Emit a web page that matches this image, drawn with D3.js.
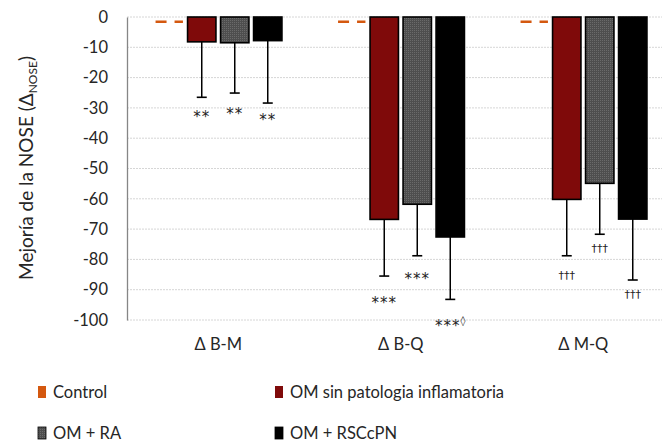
<!DOCTYPE html>
<html><head><meta charset="utf-8">
<script src="https://cdn.jsdelivr.net/npm/d3@7"></script>
<style>body{margin:0;background:#fff}svg{display:block;font-family:Lato,"Open Sans",sans-serif}</style>
</head><body><svg id="c" width="662" height="443"></svg>
<script>
const categories = ["Δ B-M", "Δ B-Q", "Δ M-Q"];
const seriesNames = ["Control", "OM sin patologia inflamatoria", "OM + RA", "OM + RSCcPN"];
const controlValues = [-1.6, -1.6, -1.6];
const omValues = [-8.2, -66.8, -60.2];
const raValues = [-8.5, -61.8, -54.9];
const rscValues = [-7.8, -72.6, -66.7];
const omErr = [-26.5, -85.5, -78.8];
const raErr = [-25.1, -78.8, -71.7];
const rscErr = [-28.4, -93.2, -86.8];
const omSig = ["**", "***", "†††"];
const raSig = ["**", "***", "†††"];
const rscSig = ["**", "***", "†††"];
const rscSup = ["", "◊", ""];
const omSigY = [-33, -94.5, -85.5];
const raSigY = [-32, -86.5, -76.5];
const rscSigY = [-34, -102, -91.8];
const yTicks = [0, -10, -20, -30, -40, -50, -60, -70, -80, -90, -100];

const svg = d3.select("#c");
const defs = svg.append("defs");
const pat = defs.append("pattern").attr("id","dots").attr("width",2).attr("height",2).attr("patternUnits","userSpaceOnUse");
pat.append("rect").attr("width",2).attr("height",2).attr("fill","#4e4e4e");
pat.append("rect").attr("width",1).attr("height",1).attr("fill","#6a6a6a");

const colors = ["#d4580f", "#7f0a0a", "url(#dots)", "#000000"];

const x = d3.scaleBand().domain(categories).range([127, 674.5]).padding(0);
const inner = d3.scaleBand().domain(seriesNames).range([0, x.bandwidth()]).paddingInner(0.14).paddingOuter(0.835);
const y = d3.scaleLinear().domain([-100, 0]).range([320, 17]);

// gridlines
svg.append("g").selectAll("line").data(yTicks).join("line")
  .attr("x1", 127).attr("x2", 662).attr("y1", d => y(d)).attr("y2", d => y(d))
  .attr("stroke", "#d6d6d6").attr("stroke-width", 1).attr("stroke-dasharray", "2,1");

// y axis
const yAxis = d3.axisLeft(y).tickValues(yTicks).tickSize(0).tickPadding(19).tickFormat(d => d === 0 ? "0" : "-" + Math.abs(d));
const ya = svg.append("g").attr("transform", "translate(127,0)").call(yAxis);
ya.select(".domain").attr("stroke", "#868686").attr("stroke-width", 1.3);
ya.selectAll("text").attr("font-size", 16.5).attr("fill", "#262626").attr("font-family", "Lato, sans-serif");

// x axis labels
const xAxis = d3.axisBottom(x).tickSize(0).tickPadding(0);
const xa = svg.append("g").attr("transform", "translate(0,338)").call(xAxis);
xa.select(".domain").remove();
xa.selectAll("text").attr("font-size", 16.5).attr("fill", "#262626").attr("font-family", "Lato, sans-serif").attr("dy", "0.71em");

// y label
const yl = svg.append("text").attr("transform", "translate(33,168) rotate(-90)").attr("text-anchor", "middle")
  .attr("font-size", 19).attr("fill", "#262626");
yl.append("tspan").text("Mejoría de la NOSE (Δ");
yl.append("tspan").attr("font-size", 12).attr("dy", 4).text("NOSE");
yl.append("tspan").attr("dy", -4).text(")");

// control dashes
svg.append("g").selectAll("line").data(categories).join("line")
  .attr("x1", (c) => x(c) + inner(seriesNames[0]) + 1)
  .attr("x2", (c) => x(c) + inner(seriesNames[0]) + inner.bandwidth())
  .attr("y1", (c, i) => y(controlValues[i])).attr("y2", (c, i) => y(controlValues[i]))
  .attr("stroke", colors[0]).attr("stroke-width", 2.5).attr("stroke-dasharray", "11,8");

const series = [
  {name: seriesNames[1], vals: omValues, err: omErr, sig: omSig, sup: ["", "", ""], sigY: omSigY, fill: colors[1]},
  {name: seriesNames[2], vals: raValues, err: raErr, sig: raSig, sup: ["", "", ""], sigY: raSigY, fill: colors[2]},
  {name: seriesNames[3], vals: rscValues, err: rscErr, sig: rscSig, sup: rscSup, sigY: rscSigY, fill: colors[3]}
];

series.forEach(s => {
  const g = svg.append("g");
  const bw = inner.bandwidth();
  g.selectAll("line.err").data(categories).join("line").attr("class", "err")
    .attr("x1", c => x(c) + inner(s.name) + bw / 2).attr("x2", c => x(c) + inner(s.name) + bw / 2)
    .attr("y1", (c, i) => y(s.vals[i])).attr("y2", (c, i) => y(s.err[i]))
    .attr("stroke", "#000").attr("stroke-width", 1.5);
  g.selectAll("line.cap").data(categories).join("line").attr("class", "cap")
    .attr("x1", c => x(c) + inner(s.name) + bw / 2 - 5).attr("x2", c => x(c) + inner(s.name) + bw / 2 + 5)
    .attr("y1", (c, i) => y(s.err[i])).attr("y2", (c, i) => y(s.err[i]))
    .attr("stroke", "#000").attr("stroke-width", 1.6);
  g.selectAll("rect").data(categories).join("rect")
    .attr("x", c => x(c) + inner(s.name)).attr("width", bw)
    .attr("y", y(0)).attr("height", (c, i) => y(s.vals[i]) - y(0))
    .attr("fill", s.fill).attr("stroke", "#000").attr("stroke-width", 1.6);
  const t = g.selectAll("text").data(categories).join("text")
    .attr("x", c => x(c) + inner(s.name) + bw / 2).attr("y", (c, i) => y(s.sigY[i]))
    .attr("text-anchor", "middle").attr("dominant-baseline", "middle")
    .attr("fill", "#222").attr("font-family", "DejaVu Sans, sans-serif");
  t.append("tspan")
    .attr("font-size", (c, i) => s.sig[i].includes("†") ? 11 : 15)
    .attr("letter-spacing", (c, i) => s.sig[i].includes("†") ? 0 : 1)
    .text((c, i) => s.sig[i]);
  t.filter((c, i) => s.sup[i] !== "").append("tspan")
    .attr("font-size", 10).attr("dy", -5)
    .text((c, i) => s.sup[categories.indexOf(c)]);
});

// legend
const legendPos = [[38, 392], [275, 392], [38, 433], [275, 433]];
const lg = svg.append("g").selectAll("g").data(seriesNames).join("g")
  .attr("transform", (d, i) => `translate(${legendPos[i][0]},${legendPos[i][1]})`);
lg.append("rect").attr("x", 0).attr("y", -6).attr("width", 8).attr("height", 12)
  .attr("fill", (d, i) => colors[i]).attr("stroke", (d, i) => i >= 2 ? "#000" : "none").attr("stroke-width", 0.8);
lg.append("text").attr("x", 15).attr("y", 0).attr("dy", "0.35em").attr("font-size", 16.5).attr("fill", "#262626").text(d => d);
</script>
</body></html>
